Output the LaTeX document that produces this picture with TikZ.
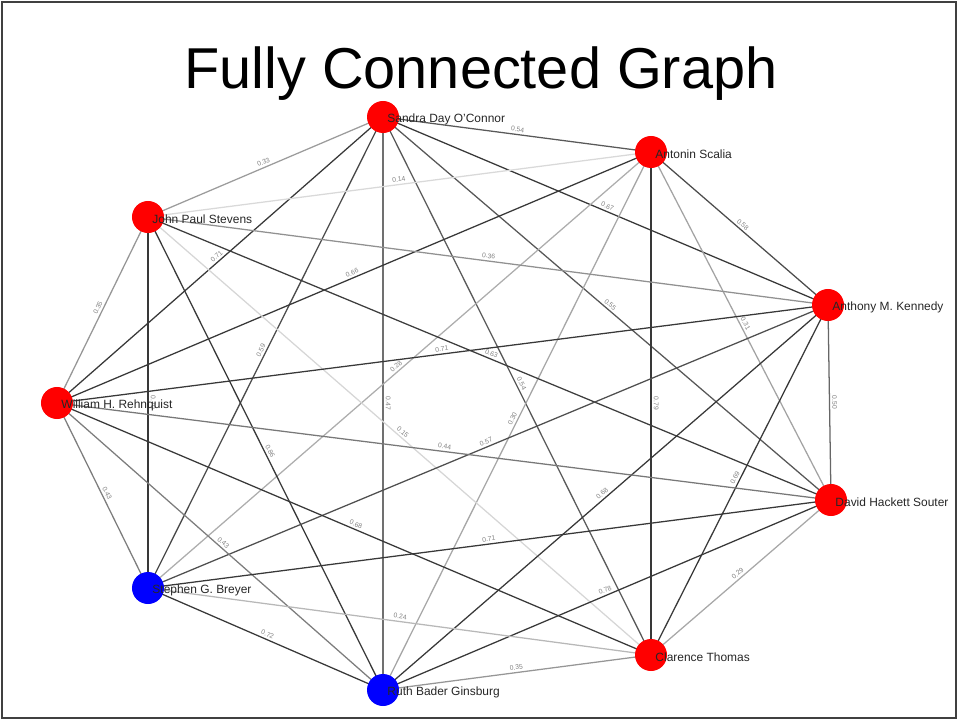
\documentclass[tikz,border=0pt]{standalone}
\usepackage{fontspec}
\setmainfont{Liberation Sans}
\usetikzlibrary{backgrounds}

\begin{document}
\begin{tikzpicture} [x=0.025cm, y=-0.025cm,
 judge/.style = {shape=circle, minimum size=0.8cm, inner sep=0pt},
 justice/.style = {font=\fontsize{8.5}{10}\selectfont, text=black!85, inner sep=0pt, xshift=-8.6pt, yshift=-1.6pt},
 tie/.style = {line width=0.9pt},
 weight/.style = {font=\fontsize{4.8}{5}\selectfont, text=black!50, sloped, above, inner sep=1.5pt}]
 \useasboundingbox (0,0) rectangle (959,721);
 \draw [black!75, line width=1pt] (2,2) rectangle (956,718);
 \node (title) [anchor=base, font=\fontsize{41}{45}\selectfont] at (481,89) {Fully Connected Graph};

 \node (oconnor)   [judge, fill=red]  at (383,117) [label={[justice]right:Sandra Day O'Connor}] {};
 \node (scalia)    [judge, fill=red]  at (651,152) [label={[justice]right:Antonin Scalia}] {};
 \node (stevens)   [judge, fill=red]  at (148,217) [label={[justice]right:John Paul Stevens}] {};
 \node (kennedy)   [judge, fill=red]  at (828,305) [label={[justice]right:Anthony M. Kennedy}] {};
 \node (rehnquist) [judge, fill=red]  at (57,403)  [label={[justice]right:William H. Rehnquist}] {};
 \node (souter)    [judge, fill=red]  at (831,500) [label={[justice]right:David Hackett Souter}] {};
 \node (breyer)    [judge, fill=blue] at (148,588) [label={[justice]right:Stephen G. Breyer}] {};
 \node (thomas)    [judge, fill=red]  at (651,655) [label={[justice]right:Clarence Thomas}] {};
 \node (ginsburg)  [judge, fill=blue] at (383,690) [label={[justice]right:Ruth Bader Ginsburg}] {};

 % every pair of justices, with its agreement value
 \begin{scope}[on background layer]
 \foreach \a/\b/\w [evaluate=\w as \shade using {int(min(78,125*\w-2))}] in {
  oconnor/scalia/0.54, oconnor/stevens/0.33, oconnor/kennedy/0.67, oconnor/rehnquist/0.71,
  oconnor/souter/0.55, oconnor/breyer/0.59, oconnor/thomas/0.54, oconnor/ginsburg/0.47,
  scalia/stevens/0.14, scalia/kennedy/0.58, scalia/rehnquist/0.66, scalia/souter/0.31,
  scalia/breyer/0.28, scalia/thomas/0.79, scalia/ginsburg/0.30,
  stevens/kennedy/0.36, stevens/rehnquist/0.35, stevens/souter/0.63, stevens/breyer/0.70,
  stevens/thomas/0.15, stevens/ginsburg/0.86,
  kennedy/rehnquist/0.71, kennedy/souter/0.50, kennedy/breyer/0.57, kennedy/thomas/0.69,
  kennedy/ginsburg/0.68,
  rehnquist/souter/0.44, rehnquist/breyer/0.43, rehnquist/thomas/0.68, rehnquist/ginsburg/0.43,
  souter/breyer/0.71, souter/thomas/0.29, souter/ginsburg/0.78,
  breyer/thomas/0.24, breyer/ginsburg/0.72,
  thomas/ginsburg/0.35}
  \draw [tie, draw=black!\shade] (\a.center) -- node [weight] {\w} (\b.center);
 \end{scope}
\end{tikzpicture}
\end{document}
